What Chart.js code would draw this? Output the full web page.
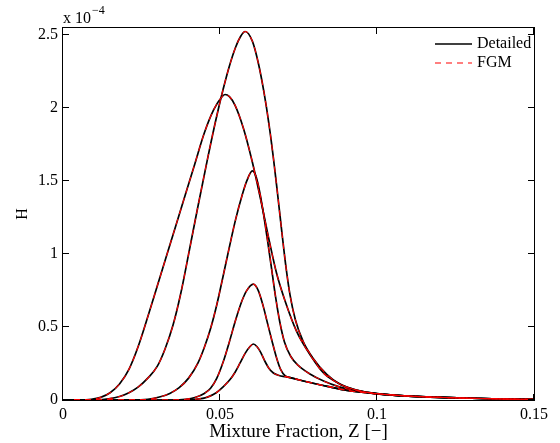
<!DOCTYPE html>
<html>
<head>
<meta charset="utf-8">
<script src="https://cdn.jsdelivr.net/npm/chart.js@4.4.1/dist/chart.umd.min.js"></script>
<style>
  html, body { margin: 0; padding: 0; background: #fff; }
</style>
</head>
<body>
<canvas id="chart" width="560" height="443"></canvas>
<script>
// H values are in units of 1e-4 (the "x 10^-4" label sits above the axis).
const xTicks = [0, 0.05, 0.1, 0.15];
const xTickLabels = ["0", "0.05", "0.1", "0.15"];
const yTicks = [0, 0.5, 1, 1.5, 2, 2.5];
const yTickLabels = ["0", "0.5", "1", "1.5", "2", "2.5"];
const seriesLabels = ["Detailed", "FGM"];

// [Z, H] pairs, one list per profile.
const profileA = [
  [0, 0], [0.011, 0.001], [0.0145, 0.008], [0.018, 0.024], [0.021, 0.05],
  [0.024, 0.09], [0.027, 0.15], [0.03, 0.23], [0.0325, 0.35], [0.035, 0.51],
  [0.0375, 0.73], [0.04, 1.0], [0.043, 1.33], [0.046, 1.65], [0.049, 1.95],
  [0.051, 2.13], [0.053, 2.29], [0.055, 2.42], [0.0565, 2.49], [0.058, 2.526],
  [0.0603, 2.46], [0.0622, 2.31], [0.064, 2.11], [0.0656, 1.89], [0.067, 1.66],
  [0.0683, 1.42], [0.0696, 1.17], [0.0709, 0.93], [0.0723, 0.72], [0.074, 0.55],
  [0.0765, 0.4], [0.0795, 0.29], [0.084, 0.175], [0.0882, 0.108], [0.0925, 0.074],
  [0.0988, 0.046], [0.105, 0.034], [0.11, 0.027], [0.12, 0.018], [0.13, 0.012],
  [0.14, 0.007], [0.15, 0.004],
];
const profileB = [
  [0, 0], [0.005, 0], [0.009, 0.004], [0.012, 0.018], [0.015, 0.05],
  [0.018, 0.11], [0.021, 0.21], [0.024, 0.37], [0.027, 0.57], [0.03, 0.78],
  [0.033, 0.99], [0.036, 1.2], [0.039, 1.41], [0.042, 1.62], [0.045, 1.83],
  [0.048, 1.99], [0.0505, 2.075], [0.0516, 2.094], [0.053, 2.08], [0.0548, 2.02],
  [0.0575, 1.86], [0.0602, 1.64], [0.0628, 1.39], [0.0654, 1.12], [0.068, 0.87],
  [0.0707, 0.68], [0.0744, 0.47], [0.079, 0.3], [0.0832, 0.18], [0.0882, 0.11],
  [0.0925, 0.074], [0.0988, 0.047], [0.105, 0.034], [0.11, 0.027], [0.12, 0.018],
  [0.13, 0.012], [0.14, 0.007], [0.15, 0.004],
];
const profileC = [
  [0, 0], [0.022, 0], [0.027, 0.005], [0.031, 0.022], [0.034, 0.045],
  [0.037, 0.085], [0.04, 0.15], [0.043, 0.255], [0.045, 0.36], [0.047, 0.49],
  [0.049, 0.655], [0.051, 0.85], [0.053, 1.05], [0.055, 1.24], [0.057, 1.4],
  [0.0585, 1.5], [0.0603, 1.57], [0.0615, 1.53], [0.0627, 1.42], [0.0639, 1.27],
  [0.0651, 1.1], [0.0663, 0.92], [0.0676, 0.72], [0.069, 0.54], [0.0705, 0.4],
  [0.0725, 0.3], [0.075, 0.235], [0.0785, 0.18], [0.083, 0.13], [0.088, 0.09],
  [0.094, 0.062], [0.1, 0.044], [0.11, 0.027], [0.12, 0.018], [0.13, 0.012],
  [0.14, 0.007], [0.15, 0.004],
];
const profileD = [
  [0, 0], [0.035, 0], [0.039, 0.005], [0.042, 0.017], [0.045, 0.045],
  [0.047, 0.08], [0.049, 0.15], [0.051, 0.26], [0.053, 0.4], [0.055, 0.55],
  [0.057, 0.68], [0.0585, 0.75], [0.0606, 0.794], [0.0622, 0.75], [0.0638, 0.64],
  [0.0652, 0.52], [0.0665, 0.41], [0.068, 0.29], [0.0693, 0.21], [0.0708, 0.165],
  [0.073, 0.15], [0.075, 0.139], [0.08, 0.113], [0.085, 0.09], [0.09, 0.068],
  [0.095, 0.053], [0.1, 0.042], [0.11, 0.027], [0.12, 0.018], [0.13, 0.012],
  [0.14, 0.007], [0.15, 0.004],
];
const profileE = [
  [0, 0], [0.038, 0], [0.042, 0.004], [0.046, 0.02], [0.0488, 0.05],
  [0.051, 0.09], [0.0532, 0.14], [0.0548, 0.19], [0.0564, 0.254], [0.058, 0.32],
  [0.0595, 0.365], [0.0606, 0.384], [0.0618, 0.365], [0.063, 0.325], [0.0642, 0.27],
  [0.0655, 0.22], [0.067, 0.185], [0.0688, 0.168], [0.0708, 0.16], [0.073, 0.15],
  [0.075, 0.139], [0.08, 0.113], [0.085, 0.09], [0.09, 0.068], [0.095, 0.053],
  [0.1, 0.042], [0.11, 0.027], [0.12, 0.018], [0.13, 0.012], [0.14, 0.007],
  [0.15, 0.004],
];
const profiles = [profileA, profileB, profileC, profileD, profileE];

const serif = "'Liberation Serif', 'DejaVu Serif', serif";

function toPoints(profile) {
  return profile.map((p) => ({ x: p[0], y: p[1] }));
}

const detailedSets = profiles.map((p) => ({
  label: seriesLabels[0],
  data: toPoints(p),
  borderColor: "#000000",
  borderWidth: 1.7,
  pointRadius: 0,
  cubicInterpolationMode: "monotone",
  order: 2,
}));
const fgmSets = profiles.map((p) => ({
  label: seriesLabels[1],
  data: toPoints(p),
  borderColor: "#ff0000",
  borderWidth: 1.1,
  borderDash: [6, 5],
  pointRadius: 0,
  cubicInterpolationMode: "monotone",
  order: 1,
}));

// Box, inward ticks on all four sides, legend and the exponent label.
const matlabAxes = {
  id: "matlabAxes",
  afterDraw(chart) {
    const { ctx, chartArea: a, scales } = chart;
    ctx.save();
    ctx.strokeStyle = "#000";
    ctx.lineWidth = 1;
    ctx.strokeRect(a.left - 0.5, a.top - 0.5, a.right - a.left + 1, a.bottom - a.top + 1);
    ctx.beginPath();
    xTicks.forEach((v) => {
      const px = Math.round(scales.x.getPixelForValue(v)) - 0.5;
      ctx.moveTo(px, a.bottom);
      ctx.lineTo(px, a.bottom - 6);
      ctx.moveTo(px, a.top);
      ctx.lineTo(px, a.top + 6);
    });
    yTicks.forEach((v) => {
      const py = Math.round(scales.y.getPixelForValue(v)) - 0.5;
      ctx.moveTo(a.left, py);
      ctx.lineTo(a.left + 6, py);
      ctx.moveTo(a.right, py);
      ctx.lineTo(a.right - 6, py);
    });
    ctx.stroke();

    // legend
    const legendSets = [chart.data.datasets[0], chart.data.datasets[5]];
    ctx.font = "16px " + serif;
    ctx.textBaseline = "middle";
    ctx.fillStyle = "#000";
    legendSets.forEach((ds, i) => {
      const y = 44 + i * 19;
      ctx.save();
      ctx.strokeStyle = ds.borderColor;
      ctx.lineWidth = ds.borderWidth;
      ctx.setLineDash(ds.borderDash || []);
      ctx.beginPath();
      ctx.moveTo(435, y);
      ctx.lineTo(472, y);
      ctx.stroke();
      ctx.restore();
      ctx.fillText(ds.label, 477, y);
    });

    // exponent
    ctx.textBaseline = "alphabetic";
    ctx.font = "16px " + serif;
    ctx.fillText("x 10", 63, 23);
    const w = ctx.measureText("x 10").width;
    ctx.font = "12px " + serif;
    ctx.fillText("\u22124", 63 + w + 1, 14);
    ctx.restore();
  },
};

new Chart(document.getElementById("chart"), {
  type: "line",
  data: { datasets: [...detailedSets, ...fgmSets] },
  options: {
    responsive: false,
    animation: false,
    events: [],
    layout: { padding: { left: 0, top: 28, right: 26, bottom: 0 } },
    plugins: { legend: { display: false }, tooltip: { enabled: false } },
    scales: {
      x: {
        type: "linear",
        min: 0,
        max: 0.15,
        grid: { display: false, drawTicks: false },
        border: { display: false },
        afterBuildTicks: (s) => { s.ticks = xTicks.map((v) => ({ value: v })); },
        afterFit: (s) => { s.height = 43; },
        ticks: {
          color: "#000",
          font: { family: serif, size: 16 },
          padding: 5,
          maxRotation: 0,
          autoSkip: false,
          callback: (v, i) => xTickLabels[i],
        },
        title: {
          display: true,
          text: "Mixture Fraction, Z [\u2212]",
          color: "#000",
          font: { family: serif, size: 19 },
          padding: { top: 0, bottom: 0 },
        },
      },
      y: {
        type: "linear",
        min: 0,
        max: 2.55,
        grid: { display: false, drawTicks: false },
        border: { display: false },
        afterBuildTicks: (s) => { s.ticks = yTicks.map((v) => ({ value: v })); },
        afterFit: (s) => { s.width = 63; },
        ticks: {
          color: "#000",
          font: { family: serif, size: 16 },
          padding: 5,
          callback: (v, i) => yTickLabels[i],
        },
        title: {
          display: true,
          text: "H",
          color: "#000",
          font: { family: serif, size: 16 },
          padding: { top: 13, bottom: 0 },
        },
      },
    },
  },
  plugins: [matlabAxes],
});
</script>
</body>
</html>
